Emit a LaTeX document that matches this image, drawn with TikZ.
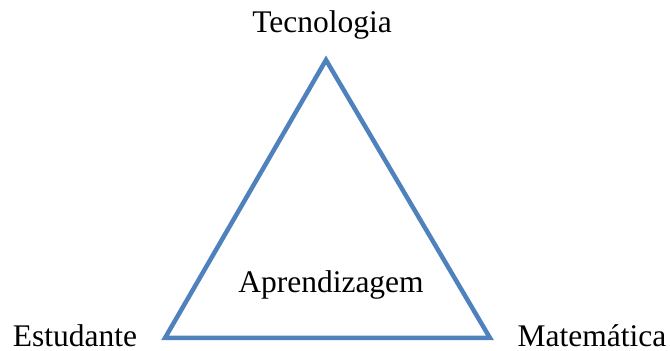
\documentclass[tikz,border=0pt]{standalone}
\usepackage{fontspec}
\setmainfont{Liberation Serif}
\begin{document}
\begin{tikzpicture}[x=1pt,y=1pt,
  lbl/.style={font=\fontsize{31.5}{36}\selectfont, inner sep=0pt}]
\definecolor{tri}{HTML}{4F81BD}
\useasboundingbox (0,0) rectangle (670,351);
\coordinate (T) at (326,291);
\coordinate (L) at (165,13);
\coordinate (R) at (490,13);
\draw[tri, line width=4.5pt, line join=miter] (T) -- (L) -- (R) -- cycle;
\node[lbl] (tec) at (322,326) {Tecnologia};
\node[lbl] (est) at (75,15) {Estudante};
\node[lbl] (mat) at (592,15) {Matemática};
\node[lbl] (apr) at (331,66) {Aprendizagem};
\end{tikzpicture}
\end{document}
